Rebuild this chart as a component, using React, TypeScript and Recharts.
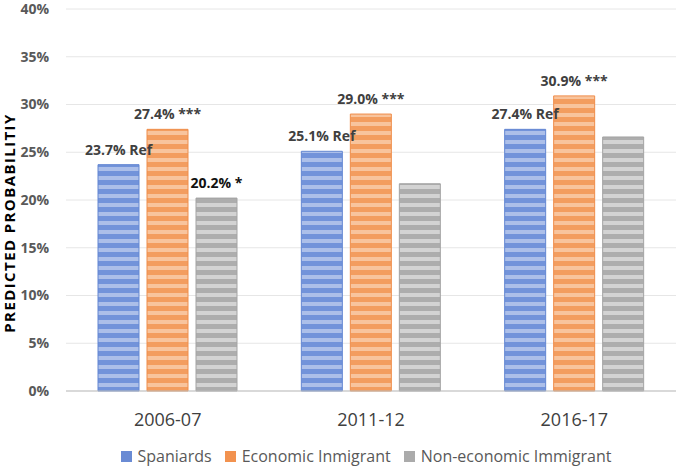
import * as React from "react";
import { BarChart, Bar, XAxis, YAxis, CartesianGrid, Legend, LabelList } from "recharts";

const periods = ["2006-07", "2011-12", "2016-17"];
const spaniards = [23.7, 25.1, 27.4];
const economic = [27.4, 29.0, 30.9];
const nonEconomic = [20.2, 21.7, 26.6];
const spaniardLabels = ["23.7% Ref", "25.1% Ref", "27.4% Ref"];
const economicLabels = ["27.4% ***", "29.0% ***", "30.9% ***"];
const nonEconomicLabels = ["20.2% *", "", ""];
const yTicks = [0, 5, 10, 15, 20, 25, 30, 35, 40];

const series = [
  { key: "spaniards", name: "Spaniards", dark: "#7293da", light: "#acbfe9", edge: "#6386d2", icon: "#6a8bd4" },
  { key: "economic", name: "Economic Inmigrant", dark: "#f39d5f", light: "#f8c49d", edge: "#ef8d4a", icon: "#f2924f" },
  { key: "nonEconomic", name: "Non-economic Immigrant", dark: "#adadad", light: "#d3d3d3", edge: "#a3a3a3", icon: "#ababab" },
];

const data = periods.map((p, i) => ({
  period: p,
  spaniards: spaniards[i],
  economic: economic[i],
  nonEconomic: nonEconomic[i],
  spaniardsLabel: spaniardLabels[i],
  economicLabel: economicLabels[i],
  nonEconomicLabel: nonEconomicLabels[i],
}));

const FONT = "'Open Sans', 'Liberation Sans', sans-serif";

function makeLabel(color: string) {
  return (props: any) => {
    const { x, y, width, value } = props;
    if (!value) return null;
    return (
      <text
        x={x + width / 2}
        y={y - 10}
        textAnchor="middle"
        fill={color}
        fontSize={14}
        fontWeight={700}
        fontFamily={FONT}
      >
        {value}
      </text>
    );
  };
}

function LegendContent() {
  return (
    <div style={{ display: "flex", justifyContent: "center", gap: 13, fontFamily: FONT, fontSize: 16, color: "#595959", lineHeight: "20px", paddingLeft: 55 }}>
      {series.map((s) => (
        <div key={s.key} style={{ display: "flex", alignItems: "center" }}>
          <span style={{ width: 11, height: 11, background: s.icon, marginRight: 6, display: "inline-block" }} />
          <span>{s.name}</span>
        </div>
      ))}
    </div>
  );
}

export default function App() {
  return (
    <div style={{ position: "absolute", left: 0, top: 0, background: "#fff" }}>
      <BarChart
        width={685}
        height={468}
        data={data}
        margin={{ top: 9, right: 9, left: 1, bottom: 2 }}
        barGap={8}
        barCategoryGap={32}
      >
        <defs>
          {series.map((s) => (
            <pattern key={s.key} id={`stripe-${s.key}`} patternUnits="userSpaceOnUse" width={10} height={9}>
              <rect x={0} y={0} width={10} height={9} fill={s.dark} />
              <rect x={0} y={5} width={10} height={4} fill={s.light} />
            </pattern>
          ))}
        </defs>
        <CartesianGrid vertical={false} stroke="#e6e6e6" />
        <XAxis
          dataKey="period"
          axisLine={{ stroke: "#bfbfbf" }}
          tickLine={false}
          height={55}
          tick={{ fontSize: 18, fill: "#404040", fontFamily: FONT }}
          tickMargin={16}
        />
        <YAxis
          domain={[0, 40]}
          ticks={yTicks}
          width={65}
          axisLine={false}
          tickLine={false}
          tickFormatter={(v: number) => `${v}%`}
          tick={{ fontSize: 14, fill: "#595959", fontWeight: 700, fontFamily: FONT }}
          tickMargin={11}
          label={() => (
            <text
              x={9}
              y={223}
              transform="rotate(-90 9 223)"
              textAnchor="middle"
              dominantBaseline="central"
              fontSize={15}
              fontWeight={700}
              letterSpacing={1.4}
              fill="#000"
              fontFamily={FONT}
            >
              PREDICTED PROBABILITIY
            </text>
          )}
        />
        <Legend verticalAlign="bottom" height={20} content={<LegendContent />} />
        <Bar dataKey="spaniards" name="Spaniards" fill="url(#stripe-spaniards)" stroke={series[0].edge} strokeWidth={1} isAnimationActive={false}>
          <LabelList dataKey="spaniardsLabel" content={makeLabel("#404040")} />
        </Bar>
        <Bar dataKey="economic" name="Economic Inmigrant" fill="url(#stripe-economic)" stroke={series[1].edge} strokeWidth={1} isAnimationActive={false}>
          <LabelList dataKey="economicLabel" content={makeLabel("#404040")} />
        </Bar>
        <Bar dataKey="nonEconomic" name="Non-economic Immigrant" fill="url(#stripe-nonEconomic)" stroke={series[2].edge} strokeWidth={1} isAnimationActive={false}>
          <LabelList dataKey="nonEconomicLabel" content={makeLabel("#111111")} />
        </Bar>
      </BarChart>
    </div>
  );
}
